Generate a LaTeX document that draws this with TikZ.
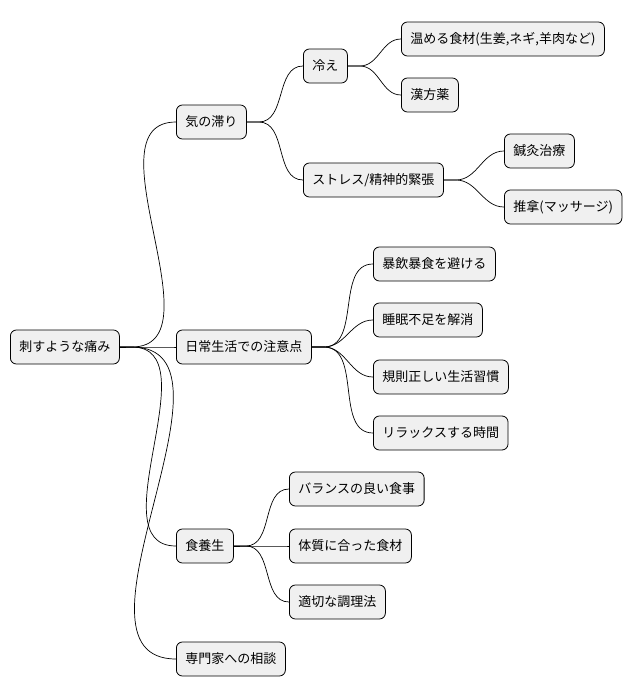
\documentclass[tikz,border=0pt]{standalone}
\usepackage{fontspec}
\setmainfont{Noto Sans CJK JP}
\begin{document}
\begin{tikzpicture}[x=1pt,y=-1pt]
            \tikzstyle{boite}=[draw,fill=black!6,rounded corners=6pt,anchor=west,minimum height=34pt,inner xsep=9pt,font=\fontsize{13}{15}\selectfont,line width=0.8pt]
            \tikzstyle{lien}=[line width=0.7pt]
            \useasboundingbox (0,0) rectangle (644,696);
            \node[boite] (racine) at (10,347)  {刺すような痛み};
            \node[boite] (ki) at (176,122) {気の滞り};
            \node[boite] (hie) at (303,66) {冷え};
            \node[boite] (shoku) at (401,39) {温める食材(生姜,ネギ,羊肉など)};
            \node[boite] (kanpo) at (401,95) {漢方薬};
            \node[boite] (stress) at (303,180) {ストレス/精神的緊張};
            \node[boite] (shinkyu) at (504,151) {鍼灸治療};
            \node[boite] (suina) at (504,207) {推拿(マッサージ)};
            \node[boite] (nichi) at (176,347) {日常生活での注意点};
            \node[boite] (boin) at (373,264) {暴飲暴食を避ける};
            \node[boite] (suimin) at (373,320) {睡眠不足を解消};
            \node[boite] (kisoku) at (373,377) {規則正しい生活習慣};
            \node[boite] (relax) at (373,433) {リラックスする時間};
            \node[boite] (yojo) at (176,546) {食養生};
            \node[boite] (balance) at (289,489) {バランスの良い食事};
            \node[boite] (taishitsu) at (289,546) {体質に合った食材};
            \node[boite] (chori) at (289,602) {適切な調理法};
            \node[boite] (senmon) at (176,659) {専門家への相談};
            \foreach \p/\c in {racine/ki,racine/nichi,racine/yojo,racine/senmon,
                ki/hie,ki/stress,hie/shoku,hie/kanpo,stress/shinkyu,stress/suina,
                nichi/boin,nichi/suimin,nichi/kisoku,nichi/relax,
                yojo/balance,yojo/taishitsu,yojo/chori}
              \draw[lien] (\p.east) -- ++(12,0) to[out=0,in=180] (\c.west);
        \end{tikzpicture}
\end{document}
